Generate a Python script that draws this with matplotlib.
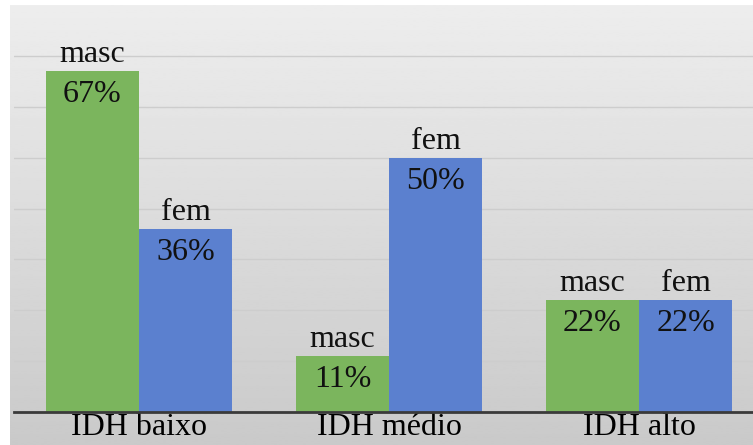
import numpy as np
import matplotlib.pyplot as plt

# dados: proporção por sexo em cada faixa de IDH
categorias = ["IDH baixo", "IDH médio", "IDH alto"]
masc = [67, 11, 22]
fem = [36, 50, 22]

plt.rcParams['font.family'] = ['Liberation Serif', 'DejaVu Serif']

W, H = 753, 445
fig = plt.figure(figsize=(W / 100, H / 100), dpi=100)

# fundo cinza em degradê (mais escuro embaixo)
bg = fig.add_axes([10 / W, 0, 1 - 10 / W, 1 - 5 / H])
grad = np.linspace(0.79, 0.93, 256).reshape(-1, 1)
bg.imshow(grad, cmap='gray', vmin=0, vmax=1, aspect='auto', origin='lower',
          extent=[0, 1, 0, 1])
bg.axis('off')

ax = fig.add_axes([14 / W, 33 / H, 750 / W, 407 / H])
ax.patch.set_alpha(0)

x = np.arange(len(categorias))
w = 0.372
verde = '#7bb55d'
azul = '#5b80cf'
ax.bar(x - w / 2, masc, w, color=verde, zorder=2)
ax.bar(x + w / 2, fem, w, color=azul, zorder=2)

ax.set_xlim(-0.5, 2.5)
ax.set_ylim(0, 80)
ax.set_yticks(range(10, 80, 10))
ax.yaxis.grid(True, color='#cdcdcd', lw=1)
ax.set_axisbelow(True)
ax.tick_params(axis='y', left=False, labelleft=False)
ax.tick_params(axis='x', length=0, pad=0.5, labelsize=23)
ax.set_xticks(x)
ax.set_xticklabels(categorias)

for s in ['left', 'right', 'top']:
    ax.spines[s].set_visible(False)
ax.spines['bottom'].set_color('#3a3a3a')
ax.spines['bottom'].set_linewidth(2)
ax.spines['bottom'].set_zorder(3)

# rótulos: sexo acima da barra e percentual dentro
for xs, vals, nome in [(x - w / 2, masc, 'masc'), (x + w / 2, fem, 'fem')]:
    for xi, v in zip(xs, vals):
        ax.annotate(nome, (xi, v), xytext=(0, 9), textcoords='offset pixels',
                    ha='center', va='baseline', fontsize=23, color='#111111')
        ax.annotate(f"{v}%", (xi, v), xytext=(0, -31), textcoords='offset pixels',
                    ha='center', va='baseline', fontsize=23, color='#111111')

fig.savefig('out.png', dpi=100)
